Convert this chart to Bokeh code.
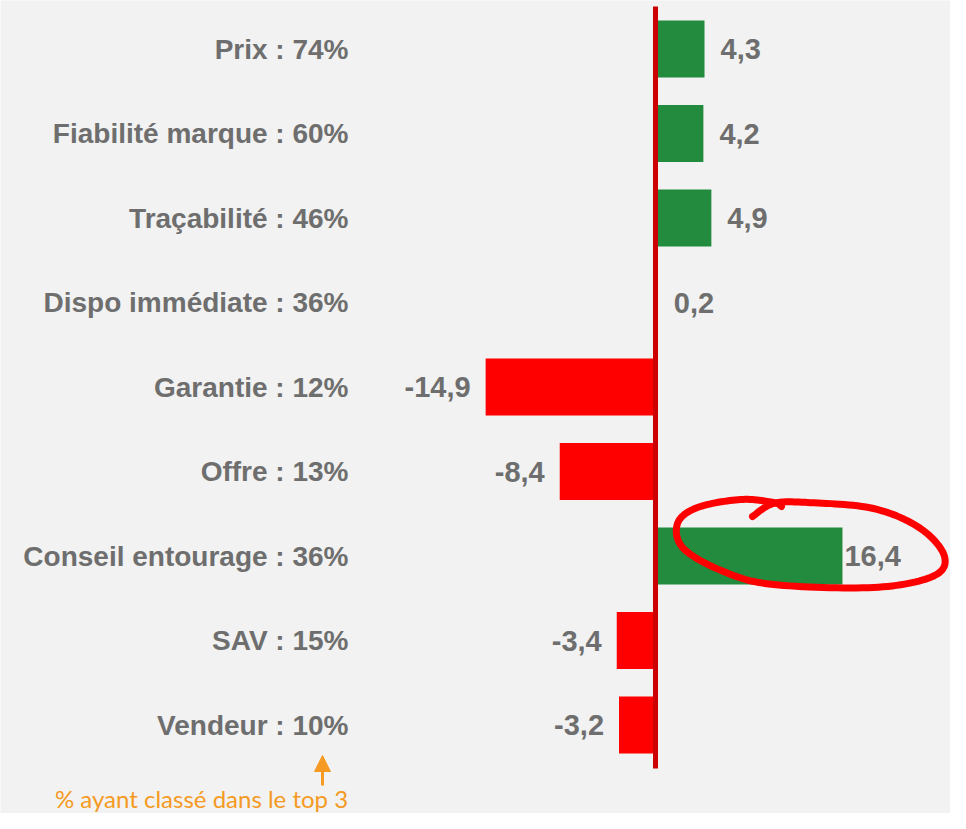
import numpy as np
from bokeh.plotting import figure
from bokeh.models import Range1d, ColumnDataSource, Arrow, NormalHead
from bokeh.core.properties import value
from bokeh.embed import file_html
from bokeh.resources import INLINE

# ---------------- data ----------------
criteria = ["Prix", "Fiabilité marque", "Traçabilité", "Dispo immédiate",
            "Garantie", "Offre", "Conseil entourage", "SAV", "Vendeur"]
top3_pct = [74, 60, 46, 36, 12, 13, 36, 15, 10]
impact = [4.3, 4.2, 4.9, 0.2, -14.9, -8.4, 16.4, -3.4, -3.2]
value_labels = ["4,3", "4,2", "4,9", "0,2", "-14,9", "-8,4", "16,4", "-3,4", "-3,2"]
footnote = "% ayant classé dans le top 3"

# --------------- styling ---------------
BG = "#f1f2f1"
GREEN = "#228b3e"
RED = "#ff0000"
AXIS_RED = "#cc0000"
GREY = "#6e6e6e"
ORANGE = "#f59a23"
label_gap_px = [16, 16, 16, 16, 15, 15, 2, 15, 15]

W, H = 950, 813
PX_PER_UNIT = 11.4
ROW_PX = 84.5
ZERO_PX = 655.0        # zero line from left of frame
FIRST_ROW_PX = 48.5    # first row centre from top of frame

x_start = -ZERO_PX / PX_PER_UNIT
x_end = (W - ZERO_PX) / PX_PER_UNIT
y_top = -FIRST_ROW_PX / ROW_PX
y_bot = (H - FIRST_ROW_PX) / ROW_PX


def px_to_x(px):
    return (px - ZERO_PX) / PX_PER_UNIT


def px_to_y(py):
    return (py - FIRST_ROW_PX) / ROW_PX


n = len(criteria)
rows = list(range(n))
cat_text = [f"{c} : {p}%" for c, p in zip(criteria, top3_pct)]
colors = [GREEN if v >= 0 else RED for v in impact]
offsets = [g if v >= 0 else -g for g, v in zip(label_gap_px, impact)]
aligns = ["left" if v >= 0 else "right" for v in impact]

src = ColumnDataSource(dict(y=rows, v=impact, color=colors, cat=cat_text))

p = figure(width=W, height=H, output_backend="svg", toolbar_location=None,
           x_range=Range1d(x_start, x_end), y_range=Range1d(y_bot, y_top),
           x_axis_type=None, y_axis_type=None, min_border=0,
           background_fill_color=BG, border_fill_color=BG, outline_line_color=None)
p.grid.visible = False

p.hbar(y="y", left=0, right="v", height=0.675, fill_color="color",
       line_color=None, source=src)

# zero line
p.segment(x0=[0], y0=[px_to_y(6)], x1=[0], y1=[px_to_y(768)], line_color=AXIS_RED, line_width=5)

# category labels
p.text(x=px_to_x(348), y="y", text="cat", source=src, text_align="right",
       text_baseline="middle", text_font=value("Liberation Sans"),
       text_font_style="bold", text_font_size="28px", text_color=GREY)

# value labels
for i in rows:
    p.text(x=[impact[i]], y=[i], text=[value_labels[i]], x_offset=offsets[i],
           text_align=aligns[i], text_baseline="middle",
           text_font=value("Liberation Sans"), text_font_style="bold",
           text_font_size="29px", text_color=GREY)

# hand-drawn circle around "Conseil entourage" (pixel path of the pen stroke)
loop_px = [(752, 516), (773, 503), (807, 502), (873, 508), (920, 528),
           (944, 556), (932, 576), (873, 587), (773, 584), (723, 571),
           (683, 548), (677, 523), (697, 507), (740, 499), (773, 502),
           (781, 506)]
P = np.array([(px_to_x(a), px_to_y(b)) for a, b in loop_px])
Pp = np.vstack([P[0], P, P[-1]])
xs, ys = [], []
for k in range(1, len(Pp) - 2):
    p0, p1, p2, p3 = Pp[k - 1], Pp[k], Pp[k + 1], Pp[k + 2]
    for t in np.linspace(0, 1, 16, endpoint=False):
        t2, t3 = t * t, t * t * t
        pt = 0.5 * ((2 * p1) + (-p0 + p2) * t + (2 * p0 - 5 * p1 + 4 * p2 - p3) * t2
                    + (-p0 + 3 * p1 - 3 * p2 + p3) * t3)
        xs.append(pt[0]); ys.append(pt[1])
xs.append(P[-1][0]); ys.append(P[-1][1])
p.line(xs, ys, line_color=RED, line_width=7, line_cap="round", line_join="round")

# footnote arrow and text
ax = px_to_x(322)
p.add_layout(Arrow(end=NormalHead(size=16, fill_color=ORANGE, line_color=ORANGE),
                   x_start=ax, y_start=px_to_y(785), x_end=ax, y_end=px_to_y(755),
                   line_color=ORANGE, line_width=3))
p.text(x=[px_to_x(201)], y=[px_to_y(798)], text=[footnote], text_align="center",
       text_baseline="middle", text_font=value("Lato"), text_font_size="24px",
       text_color=ORANGE)

open("out.html", "w").write(file_html(p, INLINE))
